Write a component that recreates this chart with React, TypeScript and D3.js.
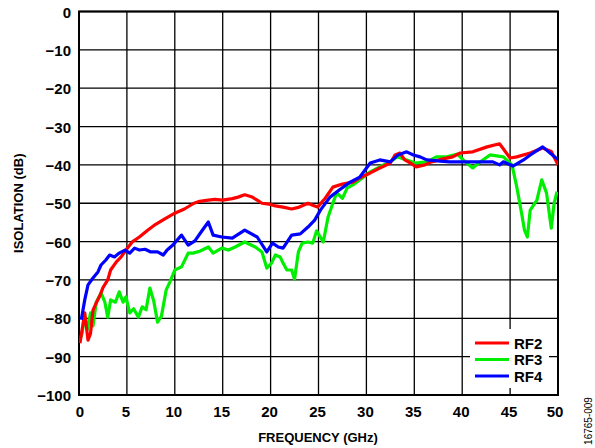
import React from 'react';
import * as d3 from 'd3';

type Pt = [number, number];

// frequency (GHz), isolation (dB)
const rf2: Pt[] = [
  [0.1, -86.5], [0.6, -78.6], [0.94, -85.7], [1.2, -84], [1.46, -77.9], [1.8, -76], [2.2, -74],
  [2.5, -72], [3, -70], [3.3, -67.4], [3.9, -65.3], [4.4, -64], [4.9, -62.2], [5.6, -60], [6.3, -58.8],
  [7.2, -57], [8, -55.5], [9, -54], [10, -52.6], [11, -51.5], [12, -50], [12.6, -49.5], [13.5, -49.2],
  [14.2, -49], [15, -49.2], [16, -48.8], [16.6, -48.4], [17.3, -47.8], [18, -48.3], [18.6, -49.2],
  [19.1, -50], [20, -50.3], [20.5, -50.7], [21.3, -51], [22.2, -51.5], [23, -51], [23.9, -50],
  [24.4, -50.5], [24.9, -51], [25.7, -48.7], [26.5, -45.8], [27.5, -45], [28.6, -44.5], [29.3, -43.4],
  [30.4, -42.1], [31.4, -40.8], [32.5, -39.5], [33, -37.4], [33.5, -36.9], [34, -38.7], [34.6, -39.5],
  [35.2, -40.5], [36.1, -40], [36.8, -39.2], [37.9, -38.5], [39, -37.9], [39.8, -36.9], [41.1, -36.6],
  [42.6, -35.3], [43.9, -34.5], [45, -38.2], [45.7, -37.9], [47.1, -36.9], [48.4, -35.6], [49.3, -36.5],
  [50, -40],
];

const rf3: Pt[] = [
  [0.24, -84.9], [0.6, -79.7], [0.86, -83], [1.2, -78.6], [1.46, -82], [1.8, -75.8], [2.3, -73.4],
  [2.7, -75.8], [3, -79.7], [3.3, -75.2], [3.8, -75.8], [4.2, -73.1], [4.6, -75.8], [4.9, -74.4],
  [5.3, -78.6], [5.7, -77.5], [6.2, -79.7], [6.6, -77], [7, -77.8], [7.4, -72.1], [7.8, -75.5],
  [8.2, -81], [8.6, -79.5], [9.1, -72.6], [9.5, -70.5], [10, -67.4], [10.7, -66.6], [11.4, -63],
  [11.9, -63], [12.6, -62.5], [13.5, -61.4], [14, -63], [14.9, -61.7], [15.6, -62.2], [16.3, -61.4],
  [17.3, -60.1], [18.4, -61.4], [19.1, -62.7], [19.6, -66.9], [20.1, -65.6], [20.5, -63.5], [21, -64],
  [21.3, -65.6], [21.7, -67.4], [22.2, -67.4], [22.5, -69.8], [22.9, -62.7], [23.3, -60.4],
  [23.9, -60.1], [24.4, -60.4], [24.8, -57.2], [25.5, -60.1], [26, -53.6], [26.5, -50], [26.9, -47.3],
  [27.5, -48.7], [28, -46], [28.6, -45.2], [29.3, -43.9], [30.4, -41.8], [31.4, -40.5], [32.5, -39.2],
  [33.2, -37.9], [34.2, -38.7], [35.1, -39.5], [36.3, -39.2], [37.3, -37.9], [38.4, -37.9],
  [39.5, -37.2], [40.1, -38.7], [41.1, -40.8], [41.9, -39.2], [42.9, -37.4], [44.3, -37.9], [45.2, -40],
  [45.7, -45.8], [46.2, -52.6], [46.5, -57], [46.8, -58.8], [47.1, -51.8], [47.8, -49.2], [48.3, -43.9],
  [48.8, -47.3], [49.3, -56.5], [49.6, -50], [49.9, -47],
];

const rf4: Pt[] = [
  [0.24, -80.4], [0.6, -75.2], [0.94, -71.3], [1.46, -69.5], [1.98, -67.9], [2.3, -66.1],
  [2.8, -64.8], [3.2, -63.5], [3.7, -64], [4.2, -63], [4.8, -62.2], [5.3, -63], [5.8, -61.7],
  [6.3, -62.2], [6.9, -62], [7.5, -62.7], [8.2, -62.7], [8.8, -63.5], [9.2, -62.2], [9.8, -60.9],
  [10.7, -58.3], [11.4, -60.9], [12.1, -59.8], [12.8, -57.3], [13.5, -54.9], [14, -58.3], [14.9, -58.8],
  [16, -59.1], [17.3, -57], [18.6, -58.8], [19.6, -62.7], [20.2, -60.4], [20.8, -61.4], [21.3, -61.7],
  [22.2, -58.3], [23.1, -58], [23.9, -56.2], [24.6, -54.4], [25.2, -51.8], [26.2, -48.4], [27.2, -46.5],
  [28.3, -44.5], [29.3, -43.2], [30.4, -39.5], [31.4, -38.7], [32.5, -39.2], [33.3, -37.4],
  [34.2, -36.6], [34.9, -37.4], [35.6, -37.9], [36.3, -38.7], [37.7, -39], [38.7, -39.2], [40.5, -39.2],
  [41.9, -39.2], [43.2, -39.2], [43.9, -40], [44.3, -39.2], [45.3, -40.3], [46.4, -38.7], [47.1, -37.4],
  [48.4, -35.3], [49.7, -38], [50, -38.5],
];

const xTicks = [0, 5, 10, 15, 20, 25, 30, 35, 40, 45, 50];
const yTicks = [0, -10, -20, -30, -40, -50, -60, -70, -80, -90, -100];
const series = [
  { name: 'RF2', color: '#ff0000', data: rf2 },
  { name: 'RF3', color: '#00ee00', data: rf3 },
  { name: 'RF4', color: '#0000ff', data: rf4 },
];

const W = 595, H = 448;
const m = { left: 79, right: 558, top: 11.5, bottom: 395 };

export default function App() {
  const x = d3.scaleLinear().domain([0, 50]).range([m.left, m.right]);
  const y = d3.scaleLinear().domain([-100, 0]).range([m.bottom, m.top]);
  const line = d3.line<Pt>().x(d => x(d[0])).y(d => y(d[1]));
  const font = 'Liberation Sans, Arial, sans-serif';
  const drawOrder = [series[1], series[0], series[2]];

  return (
    <svg width={W} height={H} style={{ position: 'absolute', left: 0, top: 0 }} fontFamily={font}>
      <rect width={W} height={H} fill="#fff" />
      {/* grid */}
      {xTicks.map(t => (
        <line key={'gx' + t} x1={x(t)} x2={x(t)} y1={m.top} y2={m.bottom} stroke="#000" strokeWidth={1.3} />
      ))}
      {yTicks.map(t => (
        <line key={'gy' + t} x1={m.left} x2={m.right} y1={y(t)} y2={y(t)} stroke="#000" strokeWidth={1.3} />
      ))}
      <rect x={m.left} y={m.top} width={m.right - m.left} height={m.bottom - m.top} fill="none" stroke="#000" strokeWidth={2} />

      {/* curves */}
      <g clipPath="url(#clip)">
        <clipPath id="clip">
          <rect x={m.left} y={m.top} width={m.right - m.left} height={m.bottom - m.top} />
        </clipPath>
        {drawOrder.map(s => (
          <path key={s.name} d={line(s.data) ?? ''} fill="none" stroke={s.color} strokeWidth={3.2} strokeLinejoin="round" />
        ))}
      </g>

      {/* legend */}
      <rect x={470} y={329} width={79} height={59} fill="#fff" />
      {series.map((s, i) => (
        <g key={'lg' + s.name} transform={`translate(475,${343 + i * 16.5})`}>
          <line x1={0} x2={34} y1={0} y2={0} stroke={s.color} strokeWidth={3} />
          <text x={39} y={5.5} fontSize={15} fontWeight="bold">{s.name}</text>
        </g>
      ))}

      {/* tick labels */}
      {yTicks.map(t => (
        <text key={'ty' + t} x={71} y={y(t) + 6} textAnchor="end" fontSize={15} fontWeight="bold">
          {t === 0 ? '0' : '\u2212' + Math.abs(t)}
        </text>
      ))}
      {xTicks.map(t => (
        <text key={'tx' + t} x={x(t) - (t === 50 ? 3 : t === 0 ? -1 : 1)} y={417} textAnchor="middle" fontSize={15} fontWeight="bold">
          {t}
        </text>
      ))}

      {/* axis titles */}
      <text x={318} y={442} textAnchor="middle" fontSize={13} fontWeight="bold">FREQUENCY (GHz)</text>
      <text transform={`translate(23,${(m.top + m.bottom) / 2}) rotate(-90)`} textAnchor="middle" fontSize={13} fontWeight="bold">
        ISOLATION (dB)
      </text>
      <text transform="translate(592,421) rotate(-90)" textAnchor="middle" fontSize={10}>16765-009</text>
    </svg>
  );
}
